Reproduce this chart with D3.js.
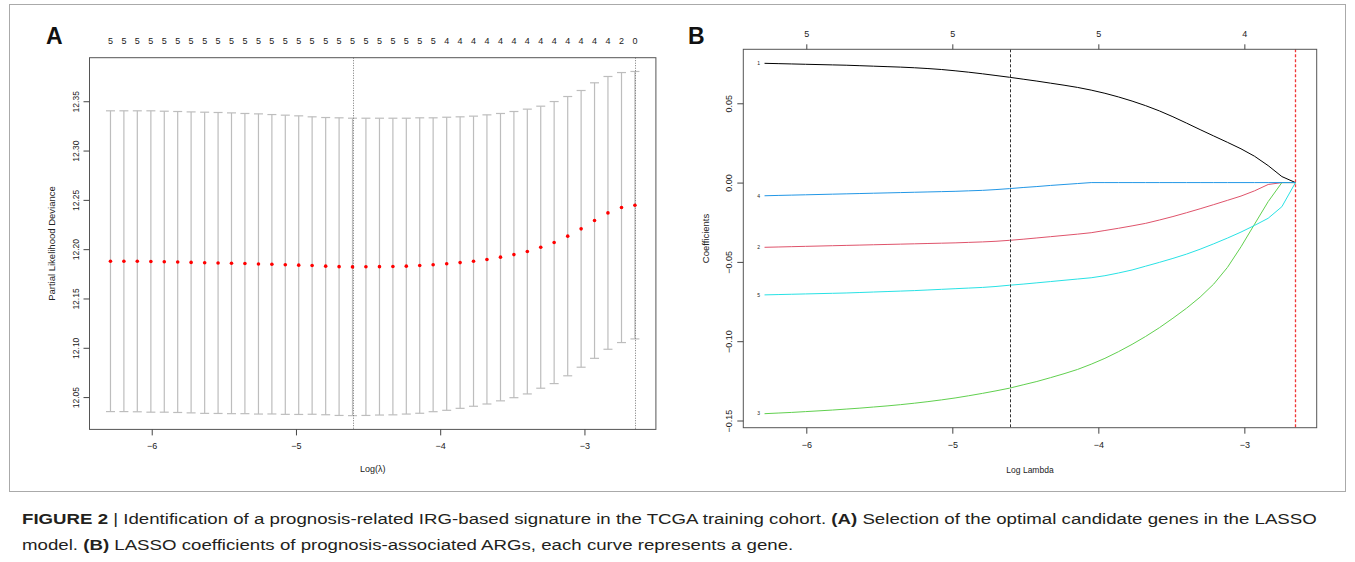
<!DOCTYPE html>
<html>
<head>
<meta charset="utf-8">
<script src="https://cdn.jsdelivr.net/npm/d3@7"></script>
<style>
  body { margin: 0; background: #fff; }
  svg text { font-family: "Liberation Sans", Arial, Helvetica, sans-serif; }
</style>
</head>
<body>
<svg id="fig" width="1355" height="562"></svg>
<script>
// ---- panel A: cross-validation curve (one entry per lambda) ----
const logLambda = [-6.286, -6.193, -6.100, -6.006, -5.913, -5.820, -5.727, -5.633, -5.540, -5.447,
  -5.354, -5.260, -5.167, -5.074, -4.981, -4.888, -4.794, -4.701, -4.608, -4.515,
  -4.421, -4.328, -4.235, -4.142, -4.049, -3.955, -3.862, -3.769, -3.676, -3.582,
  -3.489, -3.396, -3.303, -3.210, -3.116, -3.023, -2.930, -2.837, -2.743, -2.650];
const cvMean = [12.1878, 12.1878, 12.1877, 12.1875, 12.1873, 12.1870, 12.1866, 12.1862, 12.1860, 12.1857,
  12.1854, 12.1850, 12.1847, 12.1842, 12.1838, 12.1834, 12.1828, 12.1823, 12.1820, 12.1821,
  12.1823, 12.1824, 12.1828, 12.1834, 12.1842, 12.1852, 12.1864, 12.1878, 12.1896, 12.1919,
  12.1945, 12.1976, 12.2020, 12.2067, 12.2132, 12.2206, 12.2290, 12.2368, 12.2422, 12.2446];
const cvSE = [0.1525, 0.1525, 0.1526, 0.1528, 0.1526, 0.1526, 0.1526, 0.1527, 0.1526, 0.1525,
  0.1522, 0.1522, 0.1518, 0.1517, 0.1514, 0.1508, 0.1507, 0.1509, 0.1508, 0.1507,
  0.1505, 0.1504, 0.1500, 0.1498, 0.1490, 0.1486, 0.1478, 0.1471, 0.1466, 0.1457,
  0.1451, 0.1444, 0.1430, 0.1430, 0.1416, 0.1403, 0.1397, 0.1383, 0.1369, 0.1356];
const nzero = [5, 5, 5, 5, 5, 5, 5, 5, 5, 5, 5, 5, 5, 5, 5, 5, 5, 5, 5, 5,
  5, 5, 5, 5, 5, 4, 4, 4, 4, 4, 4, 4, 4, 4, 4, 4, 4, 4, 2, 0];
const lambdaMin = -4.608;
const lambda1se = -2.650;
const xTicks = [-6, -5, -4, -3];
const yTicksA = [12.05, 12.10, 12.15, 12.20, 12.25, 12.30, 12.35];

// ---- panel B: coefficient paths (same lambda sequence) ----
const geneIds = ["1", "2", "3", "4", "5"];
const geneColors = ["#000000", "#DF536B", "#61D04F", "#2297E6", "#28E2E5"];
const coef1 = [0.0752, 0.0750, 0.0748, 0.0746, 0.0744, 0.0742, 0.0740, 0.0737, 0.0734, 0.0731,
  0.0728, 0.0724, 0.0719, 0.0713, 0.0705, 0.0696, 0.0686, 0.0675, 0.0664, 0.0652,
  0.0640, 0.0627, 0.0614, 0.0600, 0.0583, 0.0563, 0.0540, 0.0514, 0.0485, 0.0452,
  0.0415, 0.0375, 0.0334, 0.0294, 0.0254, 0.0213, 0.0166, 0.0107, 0.0038, 0];
const coef2 = [-0.0408, -0.0406, -0.0404, -0.0402, -0.0400, -0.0398, -0.0396, -0.0394, -0.0392, -0.0390,
  -0.0388, -0.0386, -0.0384, -0.0382, -0.0380, -0.0377, -0.0374, -0.0370, -0.0364, -0.0357,
  -0.0349, -0.0341, -0.0333, -0.0325, -0.0316, -0.0302, -0.0288, -0.0273, -0.0257, -0.0236,
  -0.0214, -0.0190, -0.0165, -0.0139, -0.0112, -0.0085, -0.0052, -0.0012, 0, 0];
const coef3 = [-0.1457, -0.1453, -0.1449, -0.1444, -0.1439, -0.1434, -0.1428, -0.1422, -0.1415, -0.1408,
  -0.1400, -0.1391, -0.1381, -0.1370, -0.1358, -0.1344, -0.1329, -0.1313, -0.1296, -0.1275,
  -0.1254, -0.1230, -0.1205, -0.1178, -0.1145, -0.1108, -0.1066, -0.1020, -0.0970, -0.0915,
  -0.0855, -0.0792, -0.0722, -0.0640, -0.0535, -0.0405, -0.0262, -0.0120, 0, 0];
const coef4 = [-0.0083, -0.0081, -0.0079, -0.0077, -0.0075, -0.0073, -0.0071, -0.0069, -0.0067, -0.0065,
  -0.0063, -0.0061, -0.0059, -0.0057, -0.0055, -0.0052, -0.0049, -0.0044, -0.0038, -0.0031,
  -0.0025, -0.0018, -0.0012, -0.0006, 0, 0, 0, 0, 0, 0,
  0, 0, 0, 0, 0, 0, 0, 0, 0, 0];
const coef5 = [-0.0708, -0.0706, -0.0704, -0.0702, -0.0700, -0.0698, -0.0696, -0.0693, -0.0690, -0.0687,
  -0.0684, -0.0681, -0.0677, -0.0673, -0.0669, -0.0665, -0.0661, -0.0655, -0.0647, -0.0640,
  -0.0632, -0.0624, -0.0616, -0.0608, -0.0600, -0.0587, -0.0570, -0.0551, -0.0527, -0.0503,
  -0.0478, -0.0451, -0.0420, -0.0386, -0.0350, -0.0312, -0.0270, -0.0225, -0.0152, 0];
const yTicksB = [-0.15, -0.10, -0.05, 0.00, 0.05];
const topTicksB = [-6, -5, -4, -3];
const topLabelsB = ["5", "5", "5", "4"];

const svg = d3.select("#fig");

// R pads the data range by 4% on each side
function pad(ext) {
  const d = (ext[1] - ext[0]) * 0.04;
  return [ext[0] - d, ext[1] + d];
}

function styleAxis(g, size) {
  g.select(".domain").remove();
  g.selectAll(".tick line").attr("stroke", "#444");
  g.selectAll("text").attr("fill", "#222").style("font-size", size + "px");
}

// snap a coordinate onto the pixel grid so thin lines stay crisp
const crisp = v => Math.round(v) + 0.5;

// outer frame
svg.append("rect")
  .attr("x", 9.5).attr("y", 4.5)
  .attr("width", 1336).attr("height", 487)
  .attr("fill", "none").attr("stroke", "#aaa");

// ================= Panel A =================
const boxA = { left: 89.5, right: 655.9, top: 57.7, bottom: 429.4 };
const cvData = logLambda.map((l, i) => ({
  l: l, m: cvMean[i], lo: cvMean[i] - cvSE[i], hi: cvMean[i] + cvSE[i], nz: nzero[i]
}));

const xA = d3.scaleLinear()
  .domain(pad(d3.extent(logLambda)))
  .range([boxA.left, boxA.right]);
const yA = d3.scaleLinear()
  .domain(pad([d3.min(cvData, d => d.lo), d3.max(cvData, d => d.hi)]))
  .range([boxA.bottom, boxA.top]);

const gA = svg.append("g");

// error bars
gA.selectAll(".bar")
  .data(cvData)
  .enter().append("line")
  .attr("x1", d => xA(d.l)).attr("x2", d => xA(d.l))
  .attr("y1", d => yA(d.lo)).attr("y2", d => yA(d.hi))
  .attr("stroke", "#bdbdbd").attr("stroke-width", 1.2);
["lo", "hi"].forEach(k => {
  gA.selectAll(".cap-" + k)
    .data(cvData)
    .enter().append("line")
    .attr("x1", d => xA(d.l) - 4.5).attr("x2", d => xA(d.l) + 4.5)
    .attr("y1", d => yA(d[k])).attr("y2", d => yA(d[k]))
    .attr("stroke", "#bdbdbd").attr("stroke-width", 1.2);
});

// lambda.min / lambda.1se
[lambdaMin, lambda1se].forEach(v => {
  gA.append("line")
    .attr("x1", crisp(xA(v))).attr("x2", crisp(xA(v)))
    .attr("y1", boxA.top).attr("y2", boxA.bottom)
    .attr("stroke", "#555").attr("stroke-width", 0.8)
    .attr("stroke-dasharray", "1,1.5");
});

gA.selectAll(".pt")
  .data(cvData)
  .enter().append("circle")
  .attr("cx", d => xA(d.l)).attr("cy", d => yA(d.m))
  .attr("r", 1.8).attr("fill", "#ff0000");

gA.append("rect")
  .attr("x", boxA.left).attr("y", boxA.top)
  .attr("width", boxA.right - boxA.left).attr("height", boxA.bottom - boxA.top)
  .attr("fill", "none").attr("stroke", "#555");

const gxA = gA.append("g")
  .attr("transform", `translate(0,${boxA.bottom})`)
  .call(d3.axisBottom(xA).tickValues(xTicks).tickSize(6).tickPadding(7).tickFormat(d3.format("d")));
styleAxis(gxA, 9);

const gyA = gA.append("g")
  .attr("transform", `translate(${boxA.left},0)`)
  .call(d3.axisLeft(yA).tickValues(yTicksA).tickSize(6).tickFormat(d3.format(".2f")));
styleAxis(gyA, 8.5);
gyA.selectAll("text")
  .attr("transform", "rotate(-90)")
  .attr("x", 0).attr("y", -11).attr("dy", 0)
  .attr("text-anchor", "middle");

// number of non-zero coefficients on top
gA.selectAll(".nz")
  .data(cvData)
  .enter().append("text")
  .attr("x", d => xA(d.l)).attr("y", 44)
  .attr("text-anchor", "middle")
  .style("font-size", "9px").attr("fill", "#222")
  .text(d => d.nz);

gA.append("text")
  .attr("x", (boxA.left + boxA.right) / 2).attr("y", 472)
  .attr("text-anchor", "middle").style("font-size", "9px").attr("fill", "#222")
  .text("Log(λ)");
gA.append("text")
  .attr("transform", `translate(55,${(boxA.top + boxA.bottom) / 2}) rotate(-90)`)
  .attr("text-anchor", "middle").style("font-size", "9.5px").attr("fill", "#222")
  .text("Partial Likelihood Deviance");
gA.append("text")
  .attr("x", 46).attr("y", 44)
  .style("font-size", "23px").style("font-weight", "bold").attr("fill", "#111")
  .text("A");

// ================= Panel B =================
const boxB = { left: 743.3, right: 1316.7, top: 49.3, bottom: 427.7 };
const coefs = [coef1, coef2, coef3, coef4, coef5];
const paths = coefs.map((c, j) => ({
  id: geneIds[j], color: geneColors[j],
  values: logLambda.map((l, i) => ({ l: l, v: c[i] }))
}));

const xB = d3.scaleLinear()
  .domain(pad(d3.extent(logLambda)))
  .range([boxB.left, boxB.right]);
const yB = d3.scaleLinear()
  .domain(pad(d3.extent(coefs.flat())))
  .range([boxB.bottom, boxB.top]);

const gB = svg.append("g");
const line = d3.line().x(d => xB(d.l)).y(d => yB(d.v));

gB.selectAll(".path")
  .data(paths)
  .enter().append("path")
  .attr("d", d => line(d.values))
  .attr("fill", "none")
  .attr("stroke", d => d.color)
  .attr("stroke-width", 1);

gB.selectAll(".lab")
  .data(paths)
  .enter().append("text")
  .attr("x", xB(logLambda[0]) - 6).attr("y", d => yB(d.values[0].v) + 1.8)
  .attr("text-anchor", "middle")
  .style("font-size", "5px").attr("fill", "#222")
  .text(d => d.id);

gB.append("line")
  .attr("x1", crisp(xB(lambdaMin))).attr("x2", crisp(xB(lambdaMin)))
  .attr("y1", boxB.top).attr("y2", boxB.bottom)
  .attr("stroke", "#333").attr("stroke-width", 1)
  .attr("stroke-dasharray", "3,2");
gB.append("line")
  .attr("x1", crisp(xB(lambda1se))).attr("x2", crisp(xB(lambda1se)))
  .attr("y1", boxB.top).attr("y2", boxB.bottom)
  .style("stroke", "#f03838").style("stroke-width", "1.3px")
  .style("stroke-dasharray", "3,2");

gB.append("rect")
  .attr("x", boxB.left).attr("y", boxB.top)
  .attr("width", boxB.right - boxB.left).attr("height", boxB.bottom - boxB.top)
  .attr("fill", "none").attr("stroke", "#555");

const gxB = gB.append("g")
  .attr("transform", `translate(0,${boxB.bottom})`)
  .call(d3.axisBottom(xB).tickValues(xTicks).tickSize(6).tickPadding(8).tickFormat(d3.format("d")));
styleAxis(gxB, 9);

const gtB = gB.append("g")
  .attr("transform", `translate(0,${boxB.top})`)
  .call(d3.axisTop(xB).tickValues(topTicksB).tickSize(5).tickPadding(7)
    .tickFormat((d, i) => topLabelsB[i]));
styleAxis(gtB, 9);

const gyB = gB.append("g")
  .attr("transform", `translate(${boxB.left},0)`)
  .call(d3.axisLeft(yB).tickValues(yTicksB).tickSize(6).tickFormat(d3.format(".2f")));
styleAxis(gyB, 9);
gyB.selectAll("text")
  .attr("transform", "rotate(-90)")
  .attr("x", 0).attr("y", -11.5).attr("dy", 0)
  .attr("text-anchor", "middle");

gB.append("text")
  .attr("x", (boxB.left + boxB.right) / 2).attr("y", 473)
  .attr("text-anchor", "middle").style("font-size", "8.5px").attr("fill", "#222")
  .text("Log Lambda");
gB.append("text")
  .attr("transform", `translate(709,${(boxB.top + boxB.bottom) / 2}) rotate(-90)`)
  .attr("text-anchor", "middle").style("font-size", "9.5px").attr("fill", "#222")
  .text("Coefficients");
gB.append("text")
  .attr("x", 688).attr("y", 44)
  .style("font-size", "23px").style("font-weight", "bold").attr("fill", "#111")
  .text("B");

// ================= caption =================
const captionLines = [
  [["FIGURE 2", true], [" | Identification of a prognosis-related IRG-based signature in the TCGA training cohort. ", false],
   ["(A)", true], [" Selection of the optimal candidate genes in the LASSO", false]],
  [["model. ", false], ["(B)", true], [" LASSO coefficients of prognosis-associated ARGs, each curve represents a gene.", false]]
];
const capY = [524, 550];
const capNodes = captionLines.map((parts, k) => {
  const t = svg.append("text")
    .attr("x", 0).attr("y", 0)
    .style("font-size", "15px").attr("fill", "#231f20");
  parts.forEach(p => {
    t.append("tspan").style("font-weight", p[1] ? "bold" : "normal").text(p[0]);
  });
  return t;
});
const capScale = 1296 / capNodes[0].node().getComputedTextLength();
capNodes.forEach((t, k) => t.attr("transform", `translate(22,${capY[k]}) scale(${capScale},1)`));
</script>
</body>
</html>
